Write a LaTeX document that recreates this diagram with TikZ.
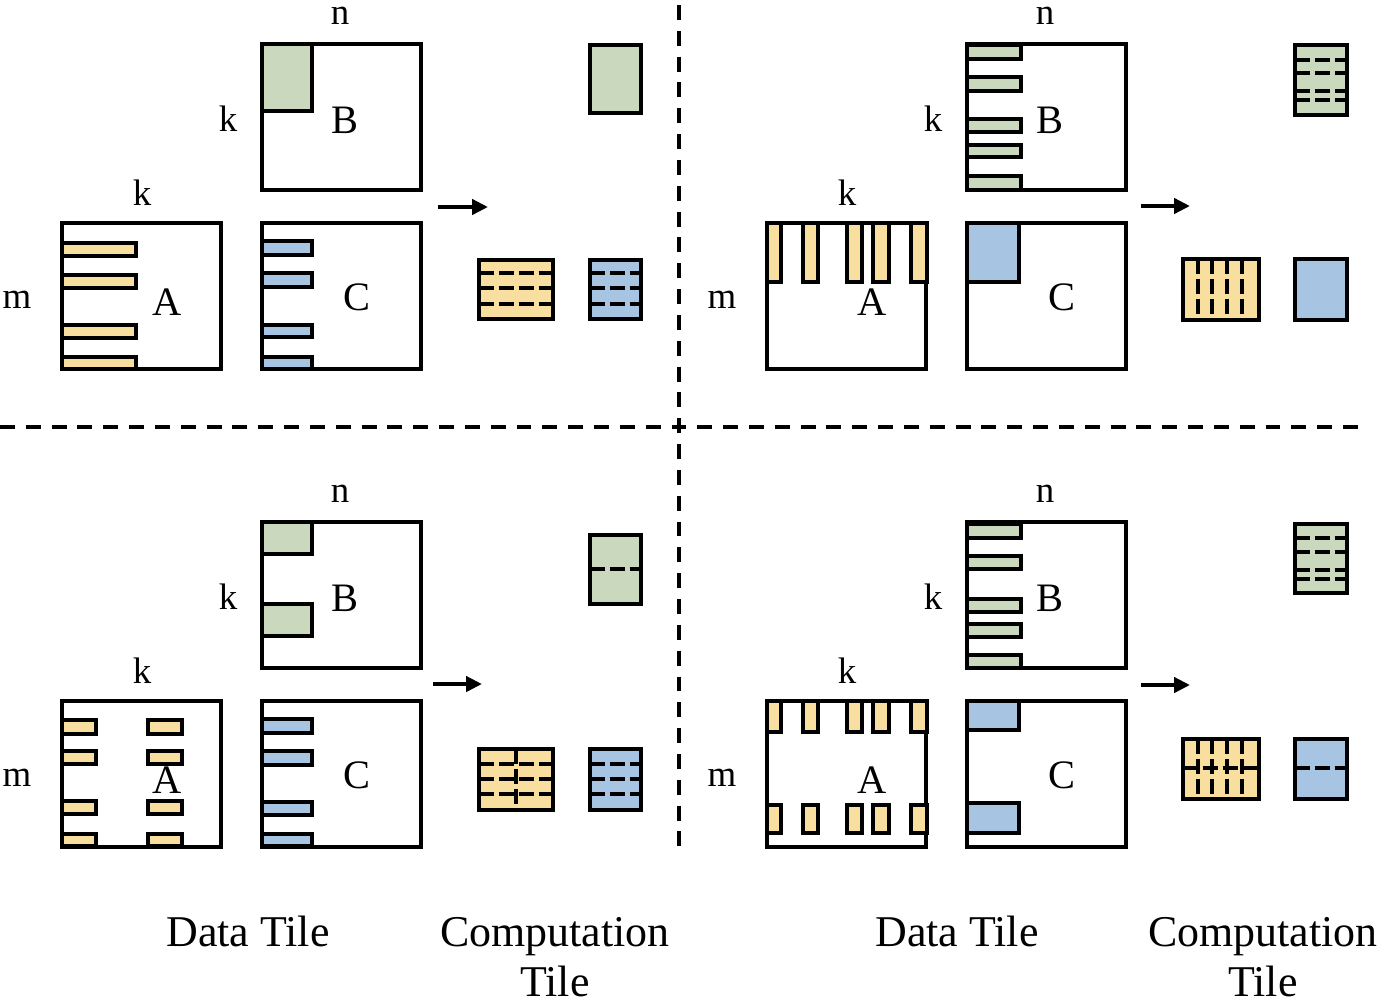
\documentclass[tikz,border=0pt]{standalone}
\usepackage{fontspec}
\setmainfont{Liberation Serif}
\usepackage{tikz}
\usetikzlibrary{arrows.meta,positioning}
\definecolor{tileyellow}{RGB}{248,223,160}
\definecolor{tilegreen}{RGB}{202,216,190}
\definecolor{tileblue}{RGB}{167,197,226}
\tikzset{
  matbox/.style={draw=black,line width=2.6pt},
  ytile/.style={draw=black,line width=2.6pt,fill=tileyellow},
  gtile/.style={draw=black,line width=2.6pt,fill=tilegreen},
  btile/.style={draw=black,line width=2.6pt,fill=tileblue},
  tiledash/.style={line width=2.6pt,dash pattern=on 8.5pt off 2.8pt},
  divider/.style={line width=1.8pt,dash pattern=on 8.5pt off 6.2pt},
  dimlbl/.style={inner sep=0pt,font=\fontsize{21}{25}\selectfont},
  matlbl/.style={inner sep=0pt,font=\fontsize{23}{27}\selectfont},
  caption/.style={inner sep=0pt,anchor=base,font=\fontsize{25}{30}\selectfont},
  flowarrow/.style={line width=2.8pt,-{Triangle[length=9pt,width=8.5pt]}}
}

\begin{document}
\begin{tikzpicture}[x=0.02cm,y=-0.02cm]
    \useasboundingbox (0,0) rectangle (1386,1002);

    % Dividers between the four panels
    \draw[divider] (679,5) -- (679,855);
    \draw[divider] (0,427) -- (1365,427);

    % Matrices B, A, C in every panel
    \foreach \dx/\dy in {0/0,705/0,0/478,705/478} {
      \begin{scope}[shift={(\dx,\dy)}]
        \draw[matbox] (262,44) rectangle (421,190);
        \draw[matbox] (62,223) rectangle (221,369);
        \draw[matbox] (262,223) rectangle (421,369);
      \end{scope}
    }

    % Panel 1 (top left)
    \draw[gtile] (262,44) rectangle (312,111);
    \foreach \y/\h in {243/256,275/288,325/338,357/369}
      \draw[ytile] (62,\y) rectangle (136,\h);
    \foreach \y/\h in {241/255,273/287,325/337,357/369}
      \draw[btile] (262,\y) rectangle (312,\h);
    \coordinate (arr1-s) at (438,207);
    \coordinate (arr1-e) at (488,207);
    \draw[flowarrow] (arr1-s) -- (arr1-e);
    \draw[gtile] (590,45) rectangle (641,113);
    \draw[ytile] (479,260) rectangle (553,319);
    \draw[btile] (590,260) rectangle (641,319);
    \foreach \y in {273,288,304} {
      \draw[tiledash] (479,\y) -- (553,\y);
      \draw[tiledash] (590,\y) -- (641,\y);
    }

    % Panel 2 (top right)
    \foreach \y/\h in {45/59,77/91,119/132,145/157,176/190}
      \draw[gtile] (967,\y) rectangle (1021,\h);
    \foreach \x/\w in {767/781,803/818,847/862,873/889,911/927}
      \draw[ytile] (\x,223) rectangle (\w,282);
    \draw[btile] (967,223) rectangle (1019,282);
    \coordinate (arr2-s) at (1141,206);
    \coordinate (arr2-e) at (1190,206);
    \draw[flowarrow] (arr2-s) -- (arr2-e);
    \draw[gtile] (1295,45) rectangle (1347,115);
    \foreach \y in {60,73,91,100}
      \draw[tiledash] (1295,\y) -- (1347,\y);
    \draw[ytile] (1183,259) rectangle (1259,320);
    \foreach \x in {1198,1212,1227,1242}
      \draw[tiledash] (\x,259) -- (\x,320);
    \draw[btile] (1295,259) rectangle (1347,320);

    % Panel 3 (bottom left)
    \draw[gtile] (262,522) rectangle (312,554);
    \draw[gtile] (262,604) rectangle (312,636);
    \foreach \y/\h in {720/734,751/764,801/814,834/846} {
      \draw[ytile] (62,\y) rectangle (96,\h);
      \draw[ytile] (148,\y) rectangle (182,\h);
    }
    \foreach \y/\h in {719/733,751/765,802/815,834/846}
      \draw[btile] (262,\y) rectangle (312,\h);
    \coordinate (arr3-s) at (433,684);
    \coordinate (arr3-e) at (482,684);
    \draw[flowarrow] (arr3-s) -- (arr3-e);
    \draw[gtile] (590,535) rectangle (641,604);
    \draw[tiledash] (590,569) -- (641,569);
    \draw[ytile] (479,749) rectangle (553,810);
    \draw[btile] (590,749) rectangle (641,810);
    \foreach \y in {764,779,794} {
      \draw[tiledash] (479,\y) -- (553,\y);
      \draw[tiledash] (590,\y) -- (641,\y);
    }
    \draw[tiledash] (516,749) -- (516,810);

    % Panel 4 (bottom right)
    \foreach \y/\h in {524/538,556/569,599/612,624/637,655/668}
      \draw[gtile] (967,\y) rectangle (1021,\h);
    \foreach \x/\w in {767/781,803/818,847/862,873/889,911/927} {
      \draw[ytile] (\x,701) rectangle (\w,732);
      \draw[ytile] (\x,805) rectangle (\w,833);
    }
    \draw[btile] (967,701) rectangle (1019,730);
    \draw[btile] (967,803) rectangle (1019,833);
    \coordinate (arr4-s) at (1141,685);
    \coordinate (arr4-e) at (1190,685);
    \draw[flowarrow] (arr4-s) -- (arr4-e);
    \draw[gtile] (1295,524) rectangle (1347,593);
    \foreach \y in {538,552,570,579}
      \draw[tiledash] (1295,\y) -- (1347,\y);
    \draw[ytile] (1183,739) rectangle (1259,799);
    \foreach \x in {1198,1212,1227,1242}
      \draw[tiledash] (\x,739) -- (\x,799);
    \draw[tiledash] (1183,768) -- (1259,768);
    \draw[btile] (1295,739) rectangle (1347,799);
    \draw[tiledash] (1295,768) -- (1347,768);

    % Dimension and matrix labels
    \foreach \dx/\dy/\q in {0/0/1,705/0/2,0/478/3,705/478/4} {
      \begin{scope}[shift={(\dx,\dy)}]
        \node[dimlbl] (n-\q) at (340,16) {n};
        \node[dimlbl] (kb-\q) at (228,119) {k};
        \node[dimlbl] (ka-\q) at (142,193) {k};
        \node[dimlbl] (m-\q) at (17,300) {m};
        \node[matlbl] (B-\q) at (345,120) {B};
        \node[matlbl] (A-\q) at (167,302) {A};
        \node[matlbl] (C-\q) at (357,297) {C};
      \end{scope}
    }

    % Captions
    \node[caption] (data-l) at (248,946) {Data Tile};
    \node[caption] (comp-l) at (555,946) {Computation};
    \node[caption] (tile-l) at (555,996) {Tile};
    \node[caption] (data-r) at (957,946) {Data Tile};
    \node[caption] (comp-r) at (1263,946) {Computation};
    \node[caption] (tile-r) at (1263,996) {Tile};
\end{tikzpicture}
\end{document}
